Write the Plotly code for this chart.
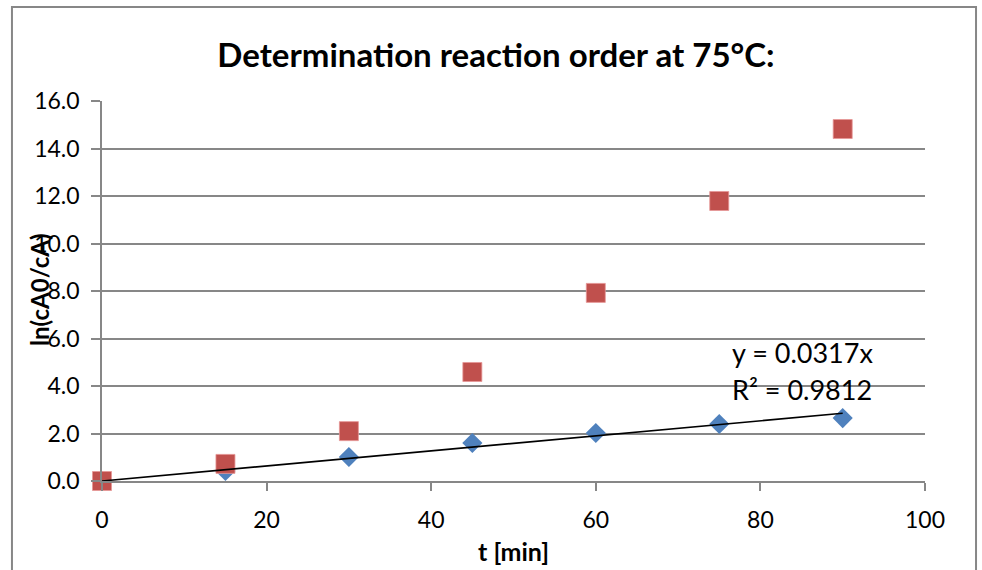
import plotly.graph_objects as go

# Sampling times [min]
t_min = [0, 15, 30, 45, 60, 75, 90]
# ln(cA0/cA) for first-order check (blue diamonds)
ln_ratio_first = [0.0, 0.42, 1.01, 1.60, 2.02, 2.40, 2.65]
# Second series (red squares)
ln_ratio_second = [0.0, 0.72, 2.10, 4.59, 7.92, 11.79, 14.82]
# Linear trend through origin fitted to the first series
slope = 0.0317
r_squared = 0.9812

y_ticks = [0, 2, 4, 6, 8, 10, 12, 14, 16]
y_tick_text = [f"{v:.1f}" for v in y_ticks]
x_ticks = [0, 20, 40, 60, 80, 100]

FONT = "Lato, 'Open Sans', sans-serif"
GRID = "#878787"

trend_x = [0, t_min[-1]]
trend_y = [slope * x for x in trend_x]

fig = go.Figure()
fig.add_trace(go.Scatter(
    x=t_min, y=ln_ratio_first, mode="markers", cliponaxis=False,
    marker=dict(symbol="diamond", size=15.5, color="#4F81BD",
                line=dict(width=0)),
    showlegend=False, hoverinfo="x+y"))
fig.add_trace(go.Scatter(
    x=t_min, y=ln_ratio_second, mode="markers", cliponaxis=False,
    marker=dict(symbol="square", size=19, color="#C0504D",
                line=dict(width=1, color="rgba(230,150,150,0.8)")),
    showlegend=False, hoverinfo="x+y"))
fig.add_trace(go.Scatter(
    x=trend_x, y=trend_y, mode="lines", cliponaxis=False,
    line=dict(color="black", width=1.6),
    showlegend=False, hoverinfo="skip"))

fig.update_layout(
    width=982, height=570,
    margin=dict(l=102, r=57, t=101, b=89),
    paper_bgcolor="white", plot_bgcolor="white",
    font=dict(family=FONT, color="black", size=19),
    title=dict(text="<b>Determination reaction order at 75°C:</b>",
               x=496 / 982, xanchor="center",
               y=1 - 55 / 570, yanchor="middle",
               font=dict(size=33, family=FONT)),
    xaxis=dict(range=[0, 100], tickvals=x_ticks,
               showgrid=False, zeroline=False,
               showline=True, linecolor=GRID, linewidth=1.6,
               ticks="outside", ticklen=8, tickcolor=GRID, tickwidth=1.6,
               tickfont=dict(size=23), ticklabelstandoff=10),
    yaxis=dict(range=[0, 16], tickvals=y_ticks, ticktext=y_tick_text,
               showgrid=True, gridcolor=GRID, gridwidth=1.6,
               zeroline=False,
               showline=True, linecolor=GRID, linewidth=1.6,
               ticks="outside", ticklen=9, tickcolor=GRID, tickwidth=1.6,
               tickfont=dict(size=23), ticklabelstandoff=7),
    annotations=[
        dict(x=(802 - 102) / 823, y=0.338, xref="paper", yref="paper",
             text=f"y = {slope}x", showarrow=False,
             font=dict(size=27), xanchor="center", yanchor="middle"),
        dict(x=(802 - 102) / 823, y=0.242, xref="paper", yref="paper",
             text=f"R² = {r_squared}", showarrow=False,
             font=dict(size=27), xanchor="center", yanchor="middle"),
        # axis titles
        dict(x=-0.0753, y=0.503, xref="paper", yref="paper",
             text="<b>ln(cA0/cA)</b>", showarrow=False, textangle=-90,
             font=dict(size=24), xanchor="center", yanchor="middle"),
        dict(x=(513 - 102) / 823, y=(481 - 551) / 380,
             xref="paper", yref="paper",
             text="<b>t [min]</b>", showarrow=False,
             font=dict(size=25), xanchor="center", yanchor="middle"),
    ],
    shapes=[
        dict(type="rect", xref="paper", yref="paper",
             x0=-0.1094, x1=1.0620, y0=-0.30, y1=1.2474,
             line=dict(color=GRID, width=2), layer="below"),
    ],
)

fig.write_html("out.html")
